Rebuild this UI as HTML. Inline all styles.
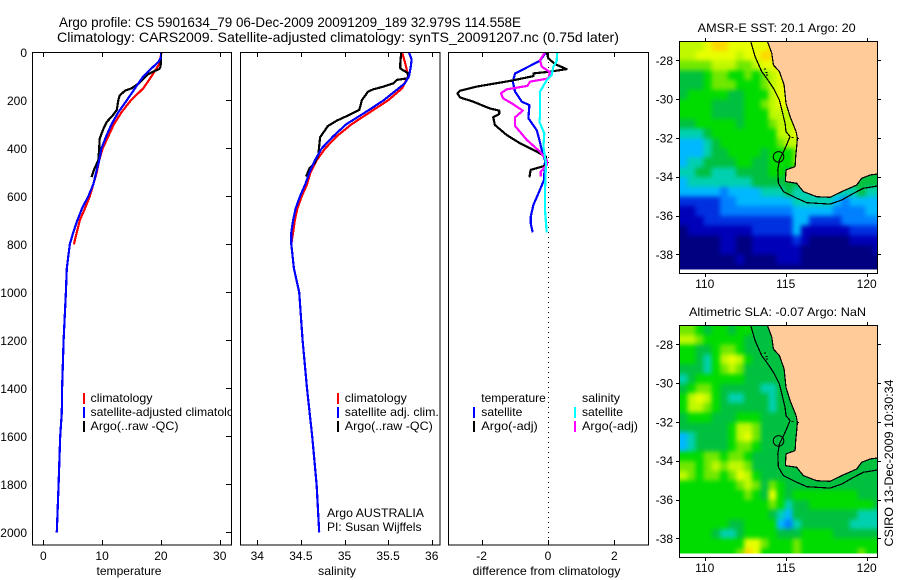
<!DOCTYPE html>
<html lang="en">
<head>
<meta charset="utf-8">
<title>Argo profile 5901634_79</title>
<style>
html,body{margin:0;padding:0;background:#fff;width:900px;height:580px;overflow:hidden}
svg{display:block}
text{font-family:"Liberation Sans",sans-serif;font-size:12px;fill:#000}
.ttl{font-size:14px}
.frame{fill:none;stroke:#000;stroke-width:1;shape-rendering:crispEdges}
.bg{fill:#fff}
</style>
</head>
<body>
<svg id="chart" xmlns="http://www.w3.org/2000/svg" width="900" height="580" viewBox="0 0 900 580">
  <defs>
    <clipPath id="clip-temp"><rect x="32" y="52" width="200" height="493"/></clipPath>
    <clipPath id="clip-sal"><rect x="240" y="52" width="200" height="493"/></clipPath>
    <clipPath id="clip-diff"><rect x="448" y="52" width="200" height="493"/></clipPath>
    <clipPath id="clip-map-sst"><rect x="679.5" y="41.5" width="198" height="228"/></clipPath>
    <clipPath id="clip-map-sla"><rect x="679.5" y="325.5" width="198" height="228"/></clipPath>
    <filter id="field-soften" x="-5%" y="-5%" width="110%" height="110%" color-interpolation-filters="sRGB"><feGaussianBlur stdDeviation="2.4"/></filter>
  </defs>

  <text class="ttl" x="59" y="27" textLength="462" lengthAdjust="spacingAndGlyphs">Argo profile: CS 5901634_79 06-Dec-2009 20091209_189 32.979S 114.558E</text>
  <text class="ttl" x="57" y="42" textLength="562" lengthAdjust="spacingAndGlyphs">Climatology: CARS2009. Satellite-adjusted climatology: synTS_20091207.nc (0.75d later)</text>

  <g id="panel-temp">
    <rect class="bg" x="32" y="52" width="199" height="493"/>
    <g id="marks-temp" clip-path="url(#clip-temp)"></g>
    <rect x="83" y="393" width="2" height="11" fill="#f00"/>
    <rect x="83" y="407" width="2" height="11" fill="#00f"/>
    <rect x="83" y="421" width="2" height="11" fill="#000"/>
    <text x="90.5" y="402" textLength="62" lengthAdjust="spacingAndGlyphs">climatology</text>
    <text x="90.5" y="416" textLength="156" lengthAdjust="spacingAndGlyphs">satellite-adjusted climatology</text>
    <text x="90.5" y="430" textLength="88" lengthAdjust="spacingAndGlyphs">Argo(..raw -QC)</text>
    <text x="129" y="575" text-anchor="middle" textLength="65" lengthAdjust="spacingAndGlyphs">temperature</text>
  </g>

  <g id="panel-sal">
    <rect class="bg" x="232" y="52" width="8" height="493"/>
    <rect class="bg" x="240" y="52" width="200" height="493"/>
    <g id="marks-sal" clip-path="url(#clip-sal)"></g>
    <rect x="337" y="393" width="2" height="11" fill="#f00"/>
    <rect x="337" y="407" width="2" height="11" fill="#00f"/>
    <rect x="337" y="421" width="2" height="11" fill="#000"/>
    <text x="344.8" y="402" textLength="62" lengthAdjust="spacingAndGlyphs">climatology</text>
    <text x="344.8" y="416" textLength="94" lengthAdjust="spacingAndGlyphs">satellite adj. clim.</text>
    <text x="344.8" y="430" textLength="88" lengthAdjust="spacingAndGlyphs">Argo(..raw -QC)</text>
    <text x="327" y="517" textLength="97" lengthAdjust="spacingAndGlyphs">Argo AUSTRALIA</text>
    <text x="327" y="531" textLength="94.5" lengthAdjust="spacingAndGlyphs">PI: Susan Wijffels</text>
    <text x="337" y="575" text-anchor="middle" textLength="38" lengthAdjust="spacingAndGlyphs">salinity</text>
  </g>

  <g id="panel-diff">
    <rect class="bg" x="448" y="52" width="200" height="493"/>
    <g id="marks-diff" clip-path="url(#clip-diff)"></g>
    <text x="481.3" y="402" textLength="64.5" lengthAdjust="spacingAndGlyphs">temperature</text>
    <rect x="473" y="407" width="2" height="11" fill="#00f"/>
    <text x="481.3" y="416" textLength="41" lengthAdjust="spacingAndGlyphs">satellite</text>
    <rect x="473" y="421" width="2" height="11" fill="#000"/>
    <text x="481.3" y="430" textLength="56.5" lengthAdjust="spacingAndGlyphs">Argo(-adj)</text>
    <text x="582" y="402" textLength="38" lengthAdjust="spacingAndGlyphs">salinity</text>
    <rect x="574" y="407" width="2" height="11" fill="#0ff"/>
    <text x="582" y="416" textLength="41" lengthAdjust="spacingAndGlyphs">satellite</text>
    <rect x="574" y="421" width="2" height="11" fill="#f0f"/>
    <text x="582" y="430" textLength="56" lengthAdjust="spacingAndGlyphs">Argo(-adj)</text>
    <text x="546.5" y="575" text-anchor="middle" textLength="148" lengthAdjust="spacingAndGlyphs">difference from climatology</text>
  </g>

  <g id="map-sst">
    <text x="697.7" y="32" textLength="158" lengthAdjust="spacingAndGlyphs">AMSR-E SST: 20.1 Argo: 20</text>
  </g>
  <g id="map-sla">
    <text x="689" y="316" textLength="177" lengthAdjust="spacingAndGlyphs">Altimetric SLA: -0.07 Argo: NaN</text>
  </g>

  <text transform="translate(893 546.5) rotate(-90)" textLength="167" lengthAdjust="spacingAndGlyphs">CSIRO 13-Dec-2009 10:30:34</text>
</svg>

<script>
// ---------- axis tick labels ----------
const depthTicks = [0,200,400,600,800,1000,1200,1400,1600,1800,2000];
const tempTicks = [0,10,20,30];
const salTicks = [34,34.5,35,35.5,36];
const salTickLabels = ['34','34.5','35','35.5','36'];
const diffTicks = [-2,0,2];
const lonTicks = [110,115,120];
const latTicks = [-28,-30,-32,-34,-36,-38];

// ---------- temperature profiles ----------
const tempClimDepth = [0,50,100,150,200,250,300,350,400,450,500,600,650,700,750,800];
const tempClimValues = [20.1,19.7,18.4,17,14.9,13.3,12,11.05,10.1,9.5,9.1,7.9,7.1,6.2,5.7,5.2];
const tempSatDepth = [0,20,40,60,100,150,200,250,300,350,400,450,500,550,600,650,700,750,800,850,900,1000,1200,1400,1500,1600,1800,2000];
const tempSatValues = [20,20,19.6,18.7,17,15.6,14.2,12.75,11.6,10.7,9.9,9.5,9,8.5,7.65,6.6,5.8,5.1,4.5,4.25,4,3.85,3.45,3.2,3.15,2.87,2.6,2.3];
const tempArgoDepth = [0,30,60,70,80,90,110,130,150,160,180,200,240,260,290,320,360,400,450,490,520];
const tempArgoValues = [20,20,19.95,19.7,18.7,17.9,17,16.2,15,13.9,13,12.75,12.5,11.9,10.8,10.2,9.6,9.5,9.35,8.6,8.2];

// ---------- salinity profiles ----------
const salClimDepth = [0,50,100,150,200,250,300,350,400,450,500,550,600,650,700,750,800];
const salClimValues = [35.66,35.7,35.73,35.66,35.5,35.29,35.08,34.91,34.78,34.68,34.61,34.57,34.51,34.46,34.43,34.41,34.39];
const salSatDepth = [0,30,60,100,130,150,200,250,300,350,400,450,500,550,600,650,700,750,800,900,1000,1200,1400,1600,1800,2000];
const salSatValues = [35.74,35.77,35.76,35.74,35.69,35.62,35.45,35.24,35.02,34.87,34.74,34.66,34.6,34.55,34.49,34.44,34.41,34.39,34.39,34.42,34.48,34.52,34.57,34.63,34.68,34.71];
const salArgoDepth = [0,46,67,88,108,115,129,143,154,164,199,240,265,285,307,354,428,460,483,518];
const salArgoValues = [35.65,35.64,35.64,35.73,35.73,35.6,35.56,35.45,35.33,35.27,35.2,35.17,35.03,34.91,34.81,34.72,34.7,34.66,34.6,34.56];

// ---------- differences from climatology ----------
const diffTempSatDepth = [0,35,60,88,122,164,206,220,275,324,365,407,449,532,588,636,685,713,750];
const diffTempSatValues = [-0.06,-0.24,-0.59,-0.99,-1.06,-0.99,-0.79,-0.56,-0.59,-0.34,-0.26,-0.19,-0.09,-0.12,-0.29,-0.44,-0.52,-0.52,-0.46];
const diffTempArgoDepth = [0,25,49,70,81,88,99,118,143,160,171,188,206,234,243,257,271,303,345,379,414,435,470,474,490,521];
const diffTempArgoValues = [-0.04,0.01,0.21,0.56,0.06,-0.44,-0.44,-1.09,-2.15,-2.65,-2.73,-2.65,-2.25,-1.75,-1.47,-1.47,-1.65,-1.6,-1.24,-0.84,-0.34,-0.06,-0.04,-0.12,-0.52,-0.56];
const diffSalSatDepth = [0,39,60,95,116,164,213,268,289,338,393,463,574,657,750];
const diffSalSatValues = [0.28,0.26,0.16,0.11,-0.04,-0.24,-0.24,-0.24,-0.26,-0.11,-0.14,-0.06,-0.09,-0.09,-0.04];
const diffSalArgoDepth = [0,32,60,83,109,122,140,154,171,192,213,243,271,307,365,414,449,470,497,518];
const diffSalArgoValues = [-0.09,-0.24,-0.19,0.06,0.01,-0.54,-0.62,-1.24,-1.42,-1.35,-1.09,-0.76,-0.99,-0.99,-0.64,-0.24,-0.04,-0.04,-0.22,-0.22];

// ---------- map fields: colour-scale level per half-degree cell ----------
const sstLevels = [
[9,9,9,10,11,11,10,10,10,10,10,11,11,11,11,11,11,11,11,11,11,11,11,11,11],
[9,9,10,10,10,10,10,9,10,10,11,11,11,11,11,11,11,11,11,11,11,11,11,11,11],
[8,8,8,8,9,9,9,8,8,9,10,10,11,11,11,11,11,11,11,11,11,11,11,11,11],
[6,6,6,7,8,8,7,7,8,7,8,9,10,10,10,10,10,10,10,10,10,10,10,10,10],
[6,6,6,7,8,8,8,7,7,7,8,9,10,10,10,10,10,10,10,10,10,10,10,10,10],
[6,7,7,7,7,7,6,6,7,7,7,9,10,10,10,10,10,10,10,10,10,10,10,10,10],
[7,7,7,7,6,6,6,6,7,7,8,9,10,10,10,10,10,10,10,10,10,10,10,10,10],
[7,7,7,7,6,6,6,6,7,7,7,9,9,9,10,10,10,10,10,10,10,10,10,10,10],
[6,6,7,7,7,7,7,6,7,7,7,8,9,9,10,10,10,10,10,10,10,10,10,10,10],
[5,5,5,6,7,7,7,7,7,7,7,7,9,9,10,10,10,10,10,10,10,10,10,10,10],
[4,4,4,5,6,7,7,7,7,7,7,7,8,9,9,9,9,9,9,9,9,9,9,9,9],
[4,4,4,5,6,6,7,7,7,7,6,7,7,7,8,8,8,8,8,8,8,8,8,8,8],
[4,5,5,6,6,6,6,7,7,6,6,7,7,7,8,8,8,8,8,8,8,8,8,8,8],
[5,5,6,6,5,5,5,6,6,6,6,7,7,6,6,6,6,6,6,6,6,6,6,6,6],
[4,5,5,5,5,5,5,5,5,6,6,6,6,6,6,6,6,6,6,6,6,6,6,6,6],
[4,4,4,4,4,3,4,4,4,4,5,5,5,6,5,5,5,5,5,5,5,5,6,5,5],
[2,2,2,2,2,3,3,4,4,4,4,4,4,4,5,5,5,5,5,4,3,4,4,4,4],
[1,1,2,2,2,3,3,3,3,3,3,3,3,3,4,4,4,4,4,3,3,3,3,4,4],
[1,1,1,2,2,2,2,2,2,2,2,2,2,2,4,4,2,2,2,2,3,3,3,3,3],
[0,1,1,1,1,1,1,1,1,2,2,2,2,2,4,1,1,1,1,1,1,2,2,2,2],
[0,0,0,0,0,1,1,0,0,1,1,1,1,1,2,1,0,0,0,0,0,1,1,1,1],
[0,0,0,0,0,1,1,0,0,1,1,1,1,1,1,0,0,0,0,0,0,0,0,0,1],
[0,0,0,0,0,0,0,1,0,0,0,0,1,1,1,0,0,0,0,0,0,0,0,0,0],
[0,0,0,0,0,0,0,0,0,0,0,0,0,0,0,0,0,0,0,0,0,0,0,0,0]
];
const slaLevels = [
[8,8,7,6,7,7,6,7,7,6,6,6,6,6,6,6,6,6,6,6,6,6,6,6,6],
[9,9,8,7,7,7,7,7,6,6,6,6,6,6,6,6,6,6,6,6,6,6,6,6,6],
[7,7,6,6,7,8,8,7,6,6,6,6,6,6,6,6,6,6,6,6,6,6,6,6,6],
[7,7,6,5,7,9,10,9,7,6,6,6,6,6,6,6,6,6,6,6,6,6,6,6,6],
[6,6,6,5,7,8,9,8,6,6,6,6,6,6,6,6,6,6,6,6,6,6,6,6,6],
[5,6,7,7,7,7,7,7,6,6,6,6,6,6,6,6,6,6,6,6,6,6,6,6,6],
[6,7,8,8,7,6,6,6,6,6,5,5,6,6,6,6,6,6,6,6,6,6,6,6,6],
[7,9,10,9,7,6,5,5,6,6,6,5,6,6,6,6,6,6,6,6,6,6,6,6,6],
[7,9,9,8,7,6,6,6,6,6,6,5,6,6,6,6,6,6,6,6,6,6,6,6,6],
[6,7,7,7,6,6,6,7,7,7,6,6,6,6,6,6,6,6,6,6,6,6,6,6,6],
[6,6,6,6,6,6,7,9,9,8,6,6,6,6,6,6,6,6,6,6,6,6,6,6,6],
[4,5,6,6,6,6,7,9,10,8,6,6,6,6,6,6,6,6,6,6,6,6,6,6,6],
[4,5,6,6,6,6,7,8,8,7,6,6,6,6,6,6,6,6,6,6,6,6,6,6,6],
[7,7,7,8,8,7,8,8,7,6,6,6,6,6,6,6,6,6,6,6,6,6,6,6,6],
[8,8,7,8,9,8,9,9,8,6,6,6,6,6,6,6,6,6,6,6,6,6,6,6,6],
[9,8,7,8,8,7,8,10,9,7,6,6,6,6,6,6,6,6,6,6,6,6,6,6,6],
[7,7,7,7,7,7,7,8,9,8,6,8,7,6,6,6,6,6,6,6,6,6,6,6,6],
[7,7,7,7,7,7,7,7,8,7,6,10,7,6,7,7,7,7,7,7,7,7,6,6,6],
[7,7,7,7,7,7,7,7,7,7,7,8,7,5,6,6,7,7,7,7,7,7,7,7,6],
[7,7,7,7,7,7,7,7,7,7,7,6,5,4,6,6,6,6,6,6,6,6,5,5,5],
[7,7,7,7,7,7,6,6,7,7,7,7,4,3,5,6,6,6,6,6,6,5,5,5,5],
[7,7,7,7,6,5,5,6,7,7,7,7,6,6,6,7,7,7,7,6,6,6,6,6,6],
[7,7,7,7,7,7,7,7,10,10,8,7,7,7,8,7,7,7,7,7,7,7,7,7,7],
[7,7,7,7,7,7,7,8,11,10,7,7,7,7,8,7,7,7,7,7,7,7,8,7,7]
];
const colourScale = ['#000080','#0000b8','#0030e0','#0080ff','#00b8ff','#00d0b0','#00c040','#00dc00','#70e800','#c0f800','#e8ff00','#ffd800'];

// ---------- geography ----------
const coastLon = [113.87,114.14,114.24,114.61,114.9,115.02,115.27,115.64,115.72,115.68,115.62,115.58,115.02,114.98,115.68,116.09,116.91,117.74,118.46,119.38,119.69,120.21,120.66];
const coastLat = [-27.02,-27.64,-28.24,-28.58,-29.27,-30.22,-30.9,-31.68,-32.02,-32.45,-32.97,-33.48,-33.65,-34.25,-34.34,-34.77,-35.03,-35.06,-34.77,-34.43,-34.08,-33.91,-33.86];
const isobathLon = [112.84,113.11,113.52,113.83,114.24,114.61,114.96,115.02,115.27,114.96,114.61,114.51,114.55,114.86,115.68,116.3,117.74,118.46,119.18,119.79,120.66];
const isobathLat = [-27.02,-27.81,-28.58,-28.93,-29.44,-30.04,-31.25,-31.68,-31.93,-32.54,-33.14,-33.65,-34.34,-34.77,-35.11,-35.34,-35.41,-35.2,-34.86,-34.6,-34.48];
const islandLon = [113.72,113.86,113.8,115.42,115.75];
const islandLat = [-28.45,-28.76,-28.62,-31.98,-32.03];
const profileLon = 114.558;
const profileLat = -32.979;

// ---------- axis functions ----------
const SVGNS = 'http://www.w3.org/2000/svg';
function mk(tag, attrs, parent){
  const el = document.createElementNS(SVGNS, tag);
  for (const k in attrs) el.setAttribute(k, attrs[k]);
  parent.appendChild(el);
  return el;
}
const depthY = d => 52.3 + 0.24 * d;
const tempX = t => 43.3 + 5.88 * t;
const salX = s => 257.3 + 87.2 * (s - 34);
const diffX = v => 548 + 33.2 * v;
const lonX = lon => 704.7 + 16.2 * (lon - 110);
const latY = (lat, top) => top + 19.4 * (-28 - lat);

function pathFor(xs, ys, xf, yf){
  return xs.map((v, i) => (i ? 'L' : 'M') + xf(v).toFixed(1) + ' ' + yf(ys[i]).toFixed(1)).join('');
}
function profile(parent, depth, values, xf, colour, name){
  const line = mk('path', {d: pathFor(values, depth, xf, depthY), fill:'none', stroke:colour, 'stroke-width':2.2, 'stroke-linejoin':'round', 'shape-rendering':'crispEdges'}, parent);
  
  
}

const pTemp = document.getElementById('panel-temp');
const pSal = document.getElementById('panel-sal');
const pDiff = document.getElementById('panel-diff');
const mTemp = document.getElementById('marks-temp');
const mSal = document.getElementById('marks-sal');
const mDiff = document.getElementById('marks-diff');

// series
profile(mTemp, tempClimDepth, tempClimValues, tempX, '#f00', 'temperature-climatology-line');
profile(mTemp, tempArgoDepth, tempArgoValues, tempX, '#000', 'temperature-argo-line');
profile(mTemp, tempSatDepth, tempSatValues, tempX, '#00f', 'temperature-satellite-line');
profile(mSal, salClimDepth, salClimValues, salX, '#f00', 'salinity-climatology-line');
profile(mSal, salArgoDepth, salArgoValues, salX, '#000', 'salinity-argo-line');
profile(mSal, salSatDepth, salSatValues, salX, '#00f', 'salinity-satellite-line');

const zeroLine = mk('line', {x1:diffX(0)+0.5, x2:diffX(0)+0.5, y1:52, y2:545, stroke:'#000', 'stroke-width':1, 'stroke-dasharray':'1 4'}, mDiff);


profile(mDiff, diffTempSatDepth, diffTempSatValues, diffX, '#00f', 'difference-temperature-satellite-line');
profile(mDiff, diffTempArgoDepth, diffTempArgoValues, diffX, '#000', 'difference-temperature-argo-line');
profile(mDiff, diffSalArgoDepth, diffSalArgoValues, diffX, '#f0f', 'difference-salinity-argo-line');
profile(mDiff, diffSalSatDepth, diffSalSatValues, diffX, '#0ff', 'difference-salinity-satellite-line');

// frames and ticks of profile panels
function profileAxes(parent, left, width, ticks, labels, xf){
  const frame = mk('rect', {x:left+0.5, y:52.5, width:width, height:492.5, class:'frame'}, parent);
  
  
  ticks.forEach((t, i) => {
    const x = Math.round(xf(t)) + 0.5;
    const top = mk('line', {x1:x, x2:x, y1:52, y2:57, stroke:'#000', 'shape-rendering':'crispEdges'}, parent);
    
    
    const bot = mk('line', {x1:x, x2:x, y1:540, y2:545, stroke:'#000', 'shape-rendering':'crispEdges'}, parent);
    
    
    const lab = mk('text', {x:xf(t), y:560, 'text-anchor':'middle'}, parent);
    lab.textContent = labels[i];
    
    
  });
}
profileAxes(pTemp, 32, 199, tempTicks, tempTicks.map(String), tempX);
profileAxes(pSal, 240, 199.5, salTicks, salTickLabels, salX);
profileAxes(pDiff, 448, 200, diffTicks, diffTicks.map(String), diffX);

depthTicks.forEach(d => {
  const y = Math.round(depthY(d)) + 0.5;
  const tick = mk('line', {x1:226, x2:231, y1:y, y2:y, stroke:'#000', 'shape-rendering':'crispEdges'}, pTemp);
  
  
  const lab = mk('text', {x:27, y:depthY(d)+4.5, 'text-anchor':'end'}, pTemp);
  lab.textContent = String(d);
  
  
});

// maps
const GRID_LON0 = 108.43, GRID_LAT0 = -27.02, GRID_STEP = 0.5;
function drawMap(groupId, levels, top, frameTop, clipId){
  const g = document.getElementById(groupId);
  const clip = mk('g', {'clip-path':'url(#' + clipId + ')'}, g);
  
  
  const field = mk('g', {filter:'url(#field-soften)'}, clip);
  
  
  const EDGE = 10;
  levels.forEach((row, j) => {
    row.forEach((level, i) => {
      const x0 = lonX(GRID_LON0 + i * GRID_STEP);
      const y0 = latY(GRID_LAT0 - j * GRID_STEP, top);
      const extraL = i === 0 ? EDGE : 0;
      const extraT = j === 0 ? EDGE : 0;
      const extraR = i === row.length - 1 ? EDGE : 0;
      const extraB = j === levels.length - 1 ? EDGE : 0;
      const cell = mk('rect', {x:x0 - extraL, y:y0 - extraT, width:16.2*GRID_STEP + 0.6 + extraL + extraR, height:19.4*GRID_STEP + 0.6 + extraT + extraB, fill:colourScale[level], 'shape-rendering':'crispEdges'}, field);
      
      
    });
  });
  const yOf = lat => latY(lat, top);
  const landD = pathFor(coastLon, coastLat, lonX, yOf) + 'L' + lonX(120.8) + ' ' + yOf(-33.86) + 'L' + lonX(120.8) + ' ' + yOf(-26.9) + 'L' + lonX(113.87) + ' ' + yOf(-26.9) + 'Z';
  const land = mk('path', {d:landD, fill:'#ffcc99', stroke:'none'}, clip);
  
  
  const coast = mk('path', {d:pathFor(coastLon, coastLat, lonX, yOf), fill:'none', stroke:'#000', 'stroke-width':1.2, 'shape-rendering':'crispEdges'}, clip);
  
  
  const iso = mk('path', {d:pathFor(isobathLon, isobathLat, lonX, yOf), fill:'none', stroke:'#000', 'stroke-width':1.2, 'shape-rendering':'crispEdges'}, clip);
  
  
  islandLon.forEach((lon, i) => {
    const dot = mk('rect', {x:lonX(lon) - 1, y:yOf(islandLat[i]) - 0.5, width:2, height:1, fill:'#000', 'shape-rendering':'crispEdges'}, clip);
    
    
  });
  const marker = mk('circle', {cx:lonX(profileLon), cy:yOf(profileLat), r:5.3, fill:'none', stroke:'#000', 'stroke-width':1}, clip);
  
  

  const frame = mk('rect', {x:679.5, y:frameTop+0.5, width:198, height:232, fill:'none', class:'frame'}, g);
  
  

  lonTicks.forEach(lon => {
    const x = Math.round(lonX(lon)) + 0.5;
    const t1 = mk('line', {x1:x, x2:x, y1:frameTop-3, y2:frameTop, stroke:'#000', 'shape-rendering':'crispEdges'}, g);
    
    
    const t2 = mk('line', {x1:x, x2:x, y1:frameTop+232, y2:frameTop+236, stroke:'#000', 'shape-rendering':'crispEdges'}, g);
    
    
    const lab = mk('text', {x:lonX(lon), y:frameTop+247, 'text-anchor':'middle'}, g);
    lab.textContent = String(lon);
    
    
  });
  latTicks.forEach(lat => {
    const y = Math.round(yOf(lat)) + 0.5;
    const t1 = mk('line', {x1:676, x2:679, y1:y, y2:y, stroke:'#000', 'shape-rendering':'crispEdges'}, g);
    
    
    const t2 = mk('line', {x1:878, x2:881, y1:y, y2:y, stroke:'#000', 'shape-rendering':'crispEdges'}, g);
    
    
    const lab = mk('text', {x:673, y:yOf(lat)+4.5, 'text-anchor':'end'}, g);
    lab.textContent = String(lat);
    
    
  });
}
drawMap('map-sst', sstLevels, 60.3, 41, 'clip-map-sst');
drawMap('map-sla', slaLevels, 344.3, 325, 'clip-map-sla');
</script>
</body>
</html>
